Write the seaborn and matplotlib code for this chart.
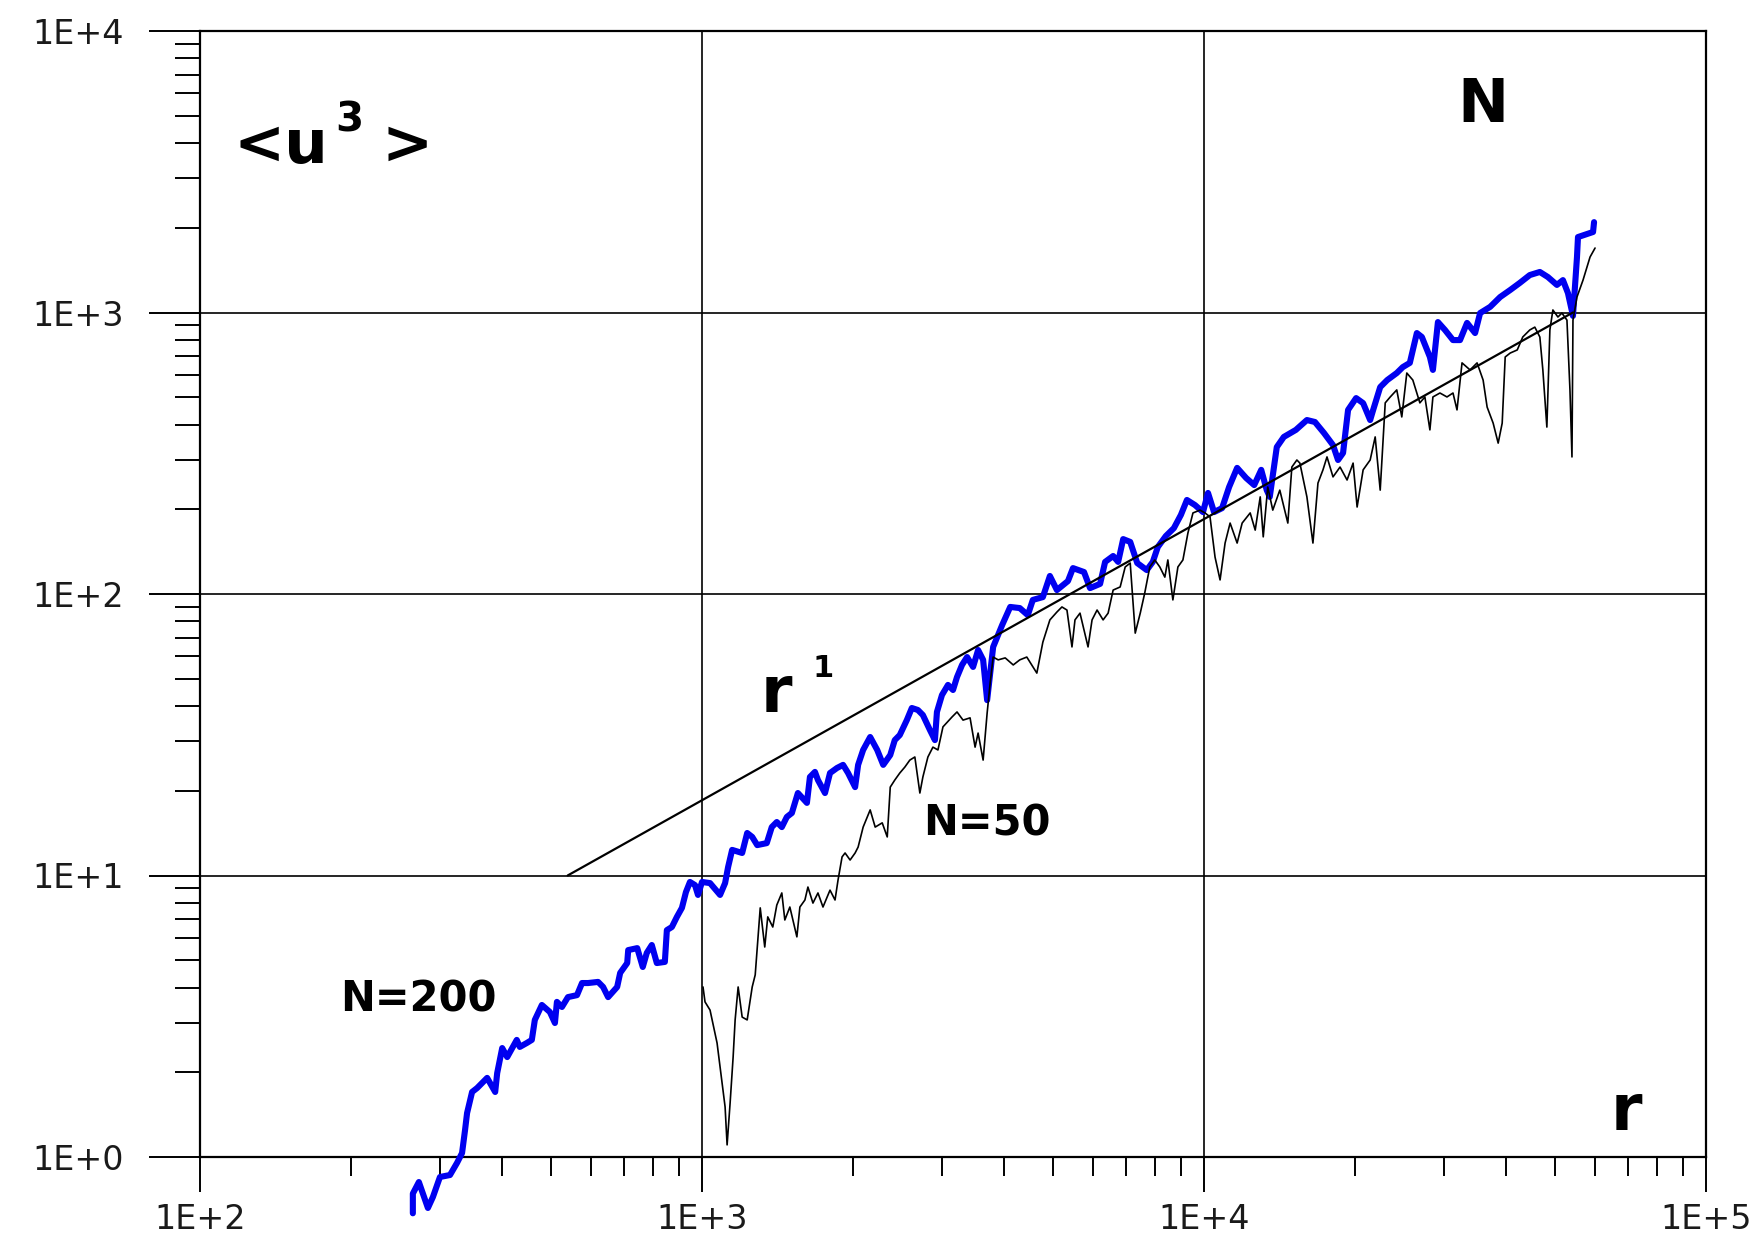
import numpy as np
import matplotlib
matplotlib.use("Agg")
import matplotlib.pyplot as plt
import matplotlib.ticker as mticker
import seaborn as sns

# values, kept as decades (log10)
log_r_n200 = [2.424, 2.424, 2.436, 2.454, 2.464, 2.478, 2.498, 2.512, 2.522, 2.528,
              2.532, 2.542, 2.552, 2.572, 2.588, 2.592, 2.602, 2.612, 2.631, 2.637,
              2.651, 2.661, 2.667, 2.681, 2.697, 2.707, 2.711, 2.721, 2.733, 2.751,
              2.761, 2.773, 2.793, 2.803, 2.813, 2.831, 2.837, 2.851, 2.853, 2.871,
              2.882, 2.890, 2.900, 2.910, 2.926, 2.930, 2.940, 2.950, 2.960, 2.968,
              2.976, 2.986, 2.992, 3.000, 3.016, 3.036, 3.046, 3.052, 3.060, 3.080,
              3.090, 3.100, 3.110, 3.129, 3.139, 3.149, 3.159, 3.169, 3.179, 3.191,
              3.209, 3.215, 3.225, 3.231, 3.245, 3.255, 3.269, 3.281, 3.291, 3.305,
              3.311, 3.321, 3.335, 3.349, 3.361, 3.375, 3.384, 3.394, 3.408, 3.418,
              3.430, 3.440, 3.454, 3.464, 3.468, 3.478, 3.490, 3.500, 3.508, 3.518,
              3.528, 3.540, 3.550, 3.560, 3.568, 3.580, 3.598, 3.614, 3.633, 3.649,
              3.659, 3.679, 3.693, 3.707, 3.729, 3.739, 3.761, 3.773, 3.793, 3.803,
              3.819, 3.829, 3.839, 3.853, 3.867, 3.886, 3.898, 3.908, 3.924, 3.940,
              3.954, 3.966, 3.982, 3.998, 4.008, 4.020, 4.036, 4.050, 4.066, 4.084,
              4.100, 4.114, 4.125, 4.131, 4.145, 4.159, 4.183, 4.205, 4.221, 4.239,
              4.257, 4.267, 4.277, 4.287, 4.303, 4.317, 4.331, 4.337, 4.351, 4.365,
              4.384, 4.396, 4.410, 4.424, 4.434, 4.450, 4.456, 4.466, 4.480, 4.496,
              4.510, 4.524, 4.540, 4.550, 4.570, 4.590, 4.610, 4.629, 4.649, 4.669,
              4.685, 4.703, 4.715, 4.725, 4.735, 4.743, 4.745, 4.763, 4.775, 4.777]
log_u3_n200 = [-0.200, -0.130, -0.089, -0.181, -0.142, -0.071, -0.064, -0.021, 0.014, 0.096,
               0.156, 0.231, 0.245, 0.281, 0.231, 0.298, 0.387, 0.355, 0.416, 0.391,
               0.405, 0.416, 0.487, 0.540, 0.515, 0.476, 0.551, 0.533, 0.568, 0.575,
               0.618, 0.618, 0.622, 0.604, 0.568, 0.604, 0.654, 0.689, 0.735, 0.742,
               0.675, 0.725, 0.753, 0.689, 0.693, 0.806, 0.817, 0.853, 0.885, 0.941,
               0.977, 0.966, 0.931, 0.977, 0.973, 0.931, 0.973, 1.030, 1.091, 1.080,
               1.151, 1.137, 1.108, 1.115, 1.172, 1.190, 1.172, 1.208, 1.222, 1.293,
               1.258, 1.350, 1.368, 1.339, 1.293, 1.364, 1.382, 1.393, 1.364, 1.314,
               1.393, 1.446, 1.492, 1.446, 1.393, 1.428, 1.481, 1.499, 1.552, 1.595,
               1.588, 1.570, 1.517, 1.481, 1.581, 1.641, 1.677, 1.659, 1.705, 1.748,
               1.776, 1.741, 1.801, 1.766, 1.623, 1.812, 1.890, 1.954, 1.950, 1.925,
               1.979, 1.989, 2.064, 2.014, 2.046, 2.092, 2.078, 2.021, 2.036, 2.114,
               2.135, 2.114, 2.195, 2.185, 2.110, 2.085, 2.114, 2.167, 2.206, 2.234,
               2.281, 2.334, 2.316, 2.291, 2.359, 2.291, 2.305, 2.380, 2.448, 2.412,
               2.387, 2.441, 2.369, 2.345, 2.522, 2.558, 2.583, 2.618, 2.611, 2.572,
               2.529, 2.476, 2.501, 2.654, 2.696, 2.678, 2.618, 2.654, 2.735, 2.760,
               2.785, 2.806, 2.821, 2.927, 2.913, 2.842, 2.796, 2.966, 2.938, 2.902,
               2.902, 2.963, 2.927, 2.998, 3.020, 3.055, 3.080, 3.105, 3.133, 3.144,
               3.126, 3.098, 3.115, 3.069, 2.988, 3.197, 3.268, 3.279, 3.286, 3.321]

log_r_n50 = [3.002, 3.006, 3.016, 3.030, 3.040, 3.046, 3.050, 3.056, 3.062, 3.066,
             3.072, 3.080, 3.090, 3.100, 3.106, 3.116, 3.125, 3.131, 3.141, 3.149,
             3.159, 3.165, 3.175, 3.189, 3.195, 3.205, 3.211, 3.221, 3.231, 3.241,
             3.255, 3.265, 3.271, 3.279, 3.285, 3.295, 3.305, 3.311, 3.321, 3.335,
             3.345, 3.359, 3.369, 3.375, 3.384, 3.394, 3.404, 3.414, 3.424, 3.434,
             3.440, 3.450, 3.460, 3.470, 3.480, 3.498, 3.508, 3.520, 3.534, 3.544,
             3.550, 3.560, 3.568, 3.574, 3.580, 3.590, 3.604, 3.620, 3.633, 3.647,
             3.667, 3.679, 3.693, 3.707, 3.717, 3.727, 3.737, 3.743, 3.753, 3.769,
             3.777, 3.787, 3.799, 3.809, 3.819, 3.833, 3.843, 3.853, 3.863, 3.873,
             3.882, 3.892, 3.902, 3.912, 3.922, 3.928, 3.938, 3.948, 3.958, 3.968,
             3.978, 3.992, 4.002, 4.012, 4.022, 4.032, 4.042, 4.052, 4.066, 4.076,
             4.092, 4.102, 4.112, 4.118, 4.127, 4.137, 4.151, 4.167, 4.175, 4.185,
             4.191, 4.205, 4.217, 4.227, 4.237, 4.245, 4.257, 4.271, 4.285, 4.297,
             4.305, 4.317, 4.331, 4.341, 4.351, 4.361, 4.371, 4.384, 4.394, 4.404,
             4.416, 4.430, 4.440, 4.450, 4.456, 4.470, 4.484, 4.496, 4.504, 4.514,
             4.530, 4.544, 4.556, 4.564, 4.576, 4.586, 4.594, 4.600, 4.610, 4.624,
             4.635, 4.649, 4.659, 4.669, 4.675, 4.683, 4.689, 4.695, 4.705, 4.713,
             4.723, 4.729, 4.733, 4.735, 4.743, 4.755, 4.769, 4.779]
log_u3_n50 = [0.604, 0.551, 0.522, 0.405, 0.263, 0.178, 0.043, 0.192, 0.355, 0.487,
              0.604, 0.497, 0.487, 0.604, 0.647, 0.885, 0.746, 0.853, 0.817, 0.895,
              0.938, 0.842, 0.888, 0.782, 0.888, 0.913, 0.959, 0.902, 0.938, 0.888,
              0.948, 0.913, 0.984, 1.066, 1.080, 1.055, 1.080, 1.101, 1.172, 1.233,
              1.172, 1.187, 1.137, 1.314, 1.339, 1.364, 1.385, 1.410, 1.421, 1.293,
              1.350, 1.421, 1.456, 1.446, 1.528, 1.563, 1.581, 1.552, 1.560, 1.456,
              1.506, 1.410, 1.577, 1.684, 1.776, 1.766, 1.773, 1.748, 1.766, 1.776,
              1.719, 1.829, 1.908, 1.936, 1.954, 1.943, 1.812, 1.908, 1.932, 1.812,
              1.908, 1.943, 1.908, 1.932, 2.014, 2.025, 2.096, 2.110, 1.861, 1.932,
              2.004, 2.096, 2.121, 2.096, 2.060, 2.121, 1.979, 2.096, 2.121, 2.217,
              2.288, 2.298, 2.288, 2.274, 2.131, 2.050, 2.181, 2.252, 2.181, 2.252,
              2.288, 2.227, 2.345, 2.203, 2.380, 2.298, 2.369, 2.252, 2.451, 2.476,
              2.465, 2.345, 2.181, 2.394, 2.441, 2.487, 2.416, 2.451, 2.405, 2.465,
              2.309, 2.441, 2.476, 2.558, 2.369, 2.679, 2.700, 2.725, 2.629, 2.785,
              2.760, 2.679, 2.700, 2.583, 2.700, 2.714, 2.700, 2.714, 2.654, 2.821,
              2.796, 2.821, 2.760, 2.664, 2.607, 2.536, 2.607, 2.842, 2.856, 2.867,
              2.913, 2.938, 2.948, 2.913, 2.796, 2.593, 2.938, 3.009, 2.984, 2.998,
              2.973, 2.725, 2.487, 2.973, 3.055, 3.115, 3.197, 3.229]

# r^1 reference line
r_fit = [540, 54300]
u3_fit = [10, 1000]

x_ticks = [1e2, 1e3, 1e4, 1e5]
y_ticks = [1e0, 1e1, 1e2, 1e3, 1e4]

r200 = 10 ** np.array(log_r_n200)
u200 = 10 ** np.array(log_u3_n200)
r50 = 10 ** np.array(log_r_n50)
u50 = 10 ** np.array(log_u3_n50)

sns.set_style("ticks")
plt.rcParams['font.family'] = ['DejaVu Sans']

W, H = 1762, 1255
fig = plt.figure(figsize=(W / 100, H / 100), dpi=100)
ax = fig.add_axes([200 / W, 1 - 1157 / H, 1506 / W, 1126 / H])
ax.set_xscale("log")
ax.set_yscale("log")

sns.lineplot(x=r200, y=u200, sort=False, estimator=None, ax=ax,
             color="#0000f0", lw=4.4, clip_on=False, zorder=3)
sns.lineplot(x=r50, y=u50, sort=False, estimator=None, ax=ax,
             color="black", lw=1.2, zorder=4)
sns.lineplot(x=r_fit, y=u3_fit, sort=False, estimator=None, ax=ax,
             color="black", lw=1.6, zorder=5)

ax.set_xlim(x_ticks[0], x_ticks[-1])
ax.set_ylim(y_ticks[0], y_ticks[-1])

fmt = mticker.FuncFormatter(lambda v, p: f"1E+{int(round(np.log10(v)))}")
for axis, ticks in ((ax.xaxis, x_ticks), (ax.yaxis, y_ticks)):
    axis.set_major_locator(mticker.FixedLocator(ticks))
    axis.set_major_formatter(fmt)
    axis.set_minor_locator(mticker.LogLocator(base=10, subs=range(2, 10), numticks=20))
    axis.set_minor_formatter(mticker.NullFormatter())

ax.grid(True, which="major", color="black", lw=1.2)
ax.set_axisbelow(True)
for s in ax.spines.values():
    s.set_color("black")
    s.set_linewidth(1.6)

ax.tick_params(which="both", bottom=True, left=True, top=False, right=False,
               color="black", direction="out")
ax.tick_params(axis="x", which="major", length=25, width=1.4, pad=8,
               labelsize=24, labelcolor="#1a1a1a")
ax.tick_params(axis="x", which="minor", length=13.5, width=1.4)
ax.tick_params(axis="y", which="major", length=37, width=1.4, pad=18,
               labelsize=24, labelcolor="#1a1a1a")
ax.tick_params(axis="y", which="minor", length=18, width=1.4)
ax.set_xlabel("")
ax.set_ylabel("")


def label(px, py, s, size):
    fig.text(px / W, 1 - py / H, s, fontsize=size, fontweight="bold",
             ha="left", va="baseline", color="black")


label(233, 163, "<u", 44)
label(335, 132, "3", 29)
label(382, 163, ">", 44)
label(1457, 122, "N", 44)
label(1611, 1130, "r", 46)
label(761, 712, "r", 46)
label(813, 677, "1", 22)
label(340, 1012, "N=200", 30)
label(923, 835, "N=50", 30)

fig.savefig("out.png", dpi=100)
